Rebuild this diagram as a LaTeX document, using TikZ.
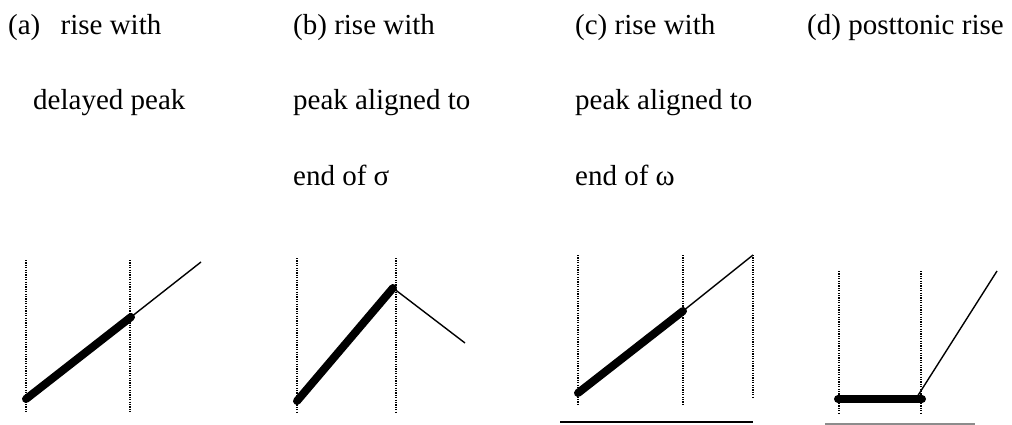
\documentclass[tikz,border=0pt]{standalone}
\usepackage{fontspec}
\setmainfont{Liberation Serif}
\begin{document}
\begin{tikzpicture}[x=1pt,y=-1pt,
  lbl/.style={anchor=base west,inner sep=0pt,font=\fontsize{29}{34}\selectfont},
  guide/.style={line width=1.3pt,dash pattern=on 1.2pt off 1.2pt},
  accent/.style={line width=8pt,line cap=round},
  tail/.style={line width=1.4pt},
  baseA/.style={line width=2pt},
  baseB/.style={line width=1.5pt,black!45}]
\useasboundingbox (0,0) rectangle (1012,425);
% labels
\node[lbl] (ta1) at (8,35) {(a)\hspace{0.7em}rise with};
\node[lbl] (ta2) at (33,110) {delayed peak};
\node[lbl] (tb1) at (293,35) {(b) rise with};
\node[lbl] (tb2) at (293,110) {peak aligned to};
\node[lbl] (tb3) at (293,185) {end of σ};
\node[lbl] (tc1) at (575,35) {(c) rise with};
\node[lbl] (tc2) at (575,110) {peak aligned to};
\node[lbl] (tc3) at (575,185) {end of ω};
\node[lbl] (td1) at (807,35) {(d) posttonic rise};
% panel a
\coordinate (a1t) at (26,260); \coordinate (a1b) at (26,412);
\coordinate (a2t) at (130,260); \coordinate (a2b) at (130,412);
\coordinate (as) at (26,399); \coordinate (ap) at (131,317); \coordinate (ae) at (201,262);
\draw[guide] (a1t) -- (a1b);
\draw[guide] (a2t) -- (a2b);
\draw[tail] (ap) -- (ae);
\draw[accent] (as) -- (ap);
% panel b
\coordinate (b1t) at (297,258); \coordinate (b1b) at (297,413);
\coordinate (b2t) at (396,258); \coordinate (b2b) at (396,413);
\coordinate (bs) at (297,401); \coordinate (bp) at (393,288); \coordinate (be) at (465,343);
\draw[guide] (b1t) -- (b1b);
\draw[guide] (b2t) -- (b2b);
\draw[tail] (bp) -- (be);
\draw[accent] (bs) -- (bp);
% panel c
\coordinate (c1t) at (578,255); \coordinate (c1b) at (578,405);
\coordinate (c2t) at (683,255); \coordinate (c2b) at (683,405);
\coordinate (c3t) at (753,255); \coordinate (c3b) at (753,397);
\coordinate (cs) at (578,393); \coordinate (cp) at (683,311); \coordinate (ce) at (753,255);
\coordinate (cl) at (560,422); \coordinate (cr) at (753,422);
\draw[guide] (c1t) -- (c1b);
\draw[guide] (c2t) -- (c2b);
\draw[guide] (c3t) -- (c3b);
\draw[tail] (cp) -- (ce);
\draw[accent] (cs) -- (cp);
\draw[baseA] (cl) -- (cr);
% panel d
\coordinate (d1t) at (839,271); \coordinate (d1b) at (839,413);
\coordinate (d2t) at (921,271); \coordinate (d2b) at (921,413);
\coordinate (ds) at (838,399); \coordinate (dp) at (922,399);
\coordinate (dk) at (917,397); \coordinate (de) at (997,271);
\coordinate (dl) at (825,424); \coordinate (dr) at (975,424);
\draw[guide] (d1t) -- (d1b);
\draw[guide] (d2t) -- (d2b);
\draw[tail] (dk) -- (de);
\draw[accent] (ds) -- (dp);
\draw[baseB] (dl) -- (dr);
\end{tikzpicture}
\end{document}
